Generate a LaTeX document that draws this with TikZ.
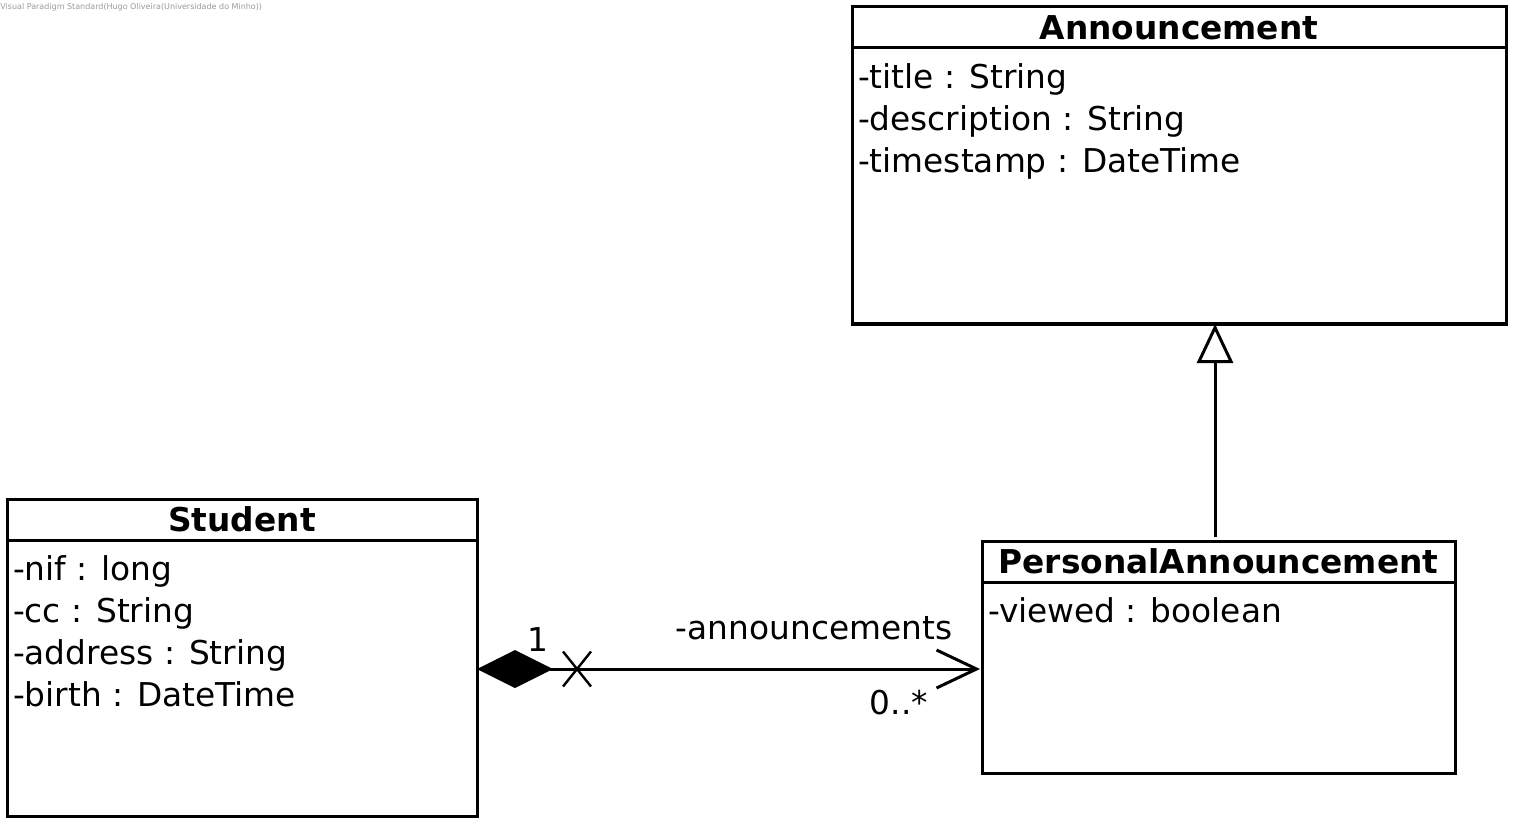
\documentclass[tikz,border=0pt]{standalone}
\usepackage{fontspec}
\setmainfont{DejaVu Sans}
\usetikzlibrary{arrows.meta,positioning,calc}
\definecolor{mark}{HTML}{999999}
\tikzset{
  classname/.style={draw, line width=1.5pt, outer sep=0pt, font=\fontsize{16.4}{21}\selectfont\bfseries,
    inner sep=0pt, minimum height=20.5pt},
  classbody/.style={draw, line width=1.5pt, outer sep=0pt, inner sep=0pt},
  attrs/.style={anchor=north west, align=left, inner xsep=2.8pt, inner ysep=7.8pt,
    font=\fontsize{16.4}{21}\selectfont},
  rolelabel/.style={font=\fontsize{16.4}{21}\selectfont, inner sep=0pt},
  inherit/.style={line width=1.5pt, -{Triangle[open, length=19.5pt, width=18pt]}},
  compose/.style={line width=1.5pt, {Diamond[length=38pt, width=19pt]}-{Straight Barb[length=20pt, width=19pt]}},
}
\begin{document}
\begin{tikzpicture}
\useasboundingbox (0,0) rectangle (759pt,-414pt);

\node[anchor=north west, inner sep=0pt, text=mark, font=\fontsize{4}{4}\selectfont]
  (wm) at (0pt,-1.5pt) {Visual Paradigm Standard(Hugo Oliveira(Universidade do Minho))};

% Announcement
\node[classname, minimum width=327pt] (annhead) at (589.5pt,-13.75pt) {Announcement};
\node[classbody, minimum width=327pt, minimum height=138pt, below=0pt of annhead] (annbody) {};
\node[attrs] (annattr) at (annbody.north west)
  {-title : String\\-description : String\\-timestamp : DateTime};

% Student
\node[classname, minimum width=235pt] (stuhead) at (121pt,-259.75pt) {Student};
\node[classbody, minimum width=235pt, minimum height=138pt, below=0pt of stuhead] (stubody) {};
\node[attrs] (stuattr) at (stubody.north west)
  {-nif : long\\-cc : String\\-address : String\\-birth : DateTime};

% PersonalAnnouncement
\node[classname, minimum width=236.5pt] (pershead) at (609.25pt,-280.75pt) {PersonalAnnouncement};
\node[classbody, minimum width=236.5pt, minimum height=95.5pt, below=0pt of pershead] (persbody) {};
\node[attrs] (persattr) at (persbody.north west) {-viewed : boolean};

% generalization
\coordinate (genfoot) at ([xshift=-1.75pt, yshift=2pt]pershead.north);
\draw[inherit] (genfoot) -- (genfoot |- annbody.south);

% composition
\coordinate (assocend) at ([xshift=-1pt, yshift=4.25pt]persbody.west);
\draw[compose] (stubody.east |- assocend) -- (assocend);
\coordinate (nav) at ([xshift=50pt]stubody.east |- assocend);
\draw[line width=1.2pt] ($(nav)+(-7pt,8.75pt)$) -- ($(nav)+(7pt,-8.75pt)$);
\draw[line width=1.2pt] ($(nav)+(-7pt,-8.75pt)$) -- ($(nav)+(7pt,8.75pt)$);
\node[rolelabel] (one) at (269pt,-320pt) {1};
\node[rolelabel] (role) at (407pt,-314pt) {-announcements};
\node[rolelabel] (many) at (449.5pt,-351.5pt) {0..*};

\end{tikzpicture}
\end{document}
